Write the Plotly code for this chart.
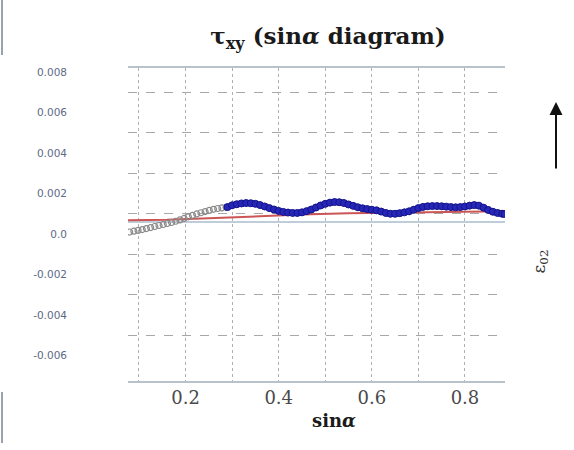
import plotly.graph_objects as go

# sin(alpha) samples and strain values
gray_x = [0.080, 0.089, 0.098, 0.107, 0.116, 0.125, 0.134, 0.143, 0.152, 0.161,
          0.170, 0.179, 0.188, 0.197, 0.206, 0.215, 0.224, 0.233, 0.242, 0.251,
          0.260, 0.269, 0.278, 0.287]
gray_y = [0.00010, 0.00014, 0.00018, 0.00022, 0.00027, 0.00032, 0.00037, 0.00042,
          0.00047, 0.00052, 0.00057, 0.00063, 0.00070, 0.00077, 0.00085, 0.00092,
          0.00099, 0.00105, 0.00111, 0.00117, 0.00122, 0.00126, 0.00129, 0.00132]

blue_x = [0.29, 0.30, 0.31, 0.32, 0.33, 0.34, 0.35, 0.36, 0.37, 0.38, 0.39, 0.40,
          0.41, 0.42, 0.43, 0.44, 0.45, 0.46, 0.47, 0.48, 0.49, 0.50, 0.51, 0.52,
          0.53, 0.54, 0.55, 0.56, 0.57, 0.58, 0.59, 0.60, 0.61, 0.62, 0.63, 0.64,
          0.65, 0.66, 0.67, 0.68, 0.69, 0.70, 0.71, 0.72, 0.73, 0.74, 0.75, 0.76,
          0.77, 0.78, 0.79, 0.80, 0.81, 0.82, 0.83, 0.84, 0.85, 0.86, 0.87, 0.88,
          0.885]
blue_y = [0.00133, 0.00142, 0.00147, 0.00151, 0.00153, 0.00152, 0.00149, 0.00143,
          0.00136, 0.00128, 0.00121, 0.00114, 0.00109, 0.00106, 0.00104, 0.00104,
          0.00107, 0.00113, 0.00121, 0.00131, 0.00141, 0.00149, 0.00155, 0.00158,
          0.00157, 0.00153, 0.00146, 0.00139, 0.00132, 0.00127, 0.00123, 0.00120,
          0.00117, 0.00111, 0.00104, 0.00100, 0.00100, 0.00103, 0.00107, 0.00112,
          0.00120, 0.00128, 0.00134, 0.00137, 0.00138, 0.00138, 0.00137, 0.00135,
          0.00133, 0.00132, 0.00133, 0.00136, 0.00140, 0.00143, 0.00140, 0.00130,
          0.00119, 0.00110, 0.00104, 0.00100, 0.00099]

red_x = [0.076, 0.16, 0.25, 0.35, 0.45, 0.55, 0.65, 0.75, 0.886]
red_y = [0.00068, 0.00070, 0.00078, 0.00088, 0.00096, 0.00102, 0.00106, 0.00110, 0.00112]

ref_x = [0.076, 0.886]
ref_y = [0.00059, 0.00059]

x_tickvals = [0.2, 0.4, 0.6, 0.8]
x_ticktext = ["0.2", "0.4", "0.6", "0.8"]
x_gridvals = [0.1, 0.3, 0.5, 0.7]
y_tickvals = [0.008, 0.006, 0.004, 0.002, 0.0, -0.002, -0.004, -0.006]
y_ticktext = ["0.008", "0.006", "0.004", "0.002", "0.0", "-0.002", "-0.004", "-0.006"]
y_gridvals = [0.007, 0.005, 0.003, 0.001, -0.001, -0.003, -0.005]

fig = go.Figure()

fig.add_trace(go.Scatter(x=ref_x, y=ref_y, mode="lines",
                         line=dict(color="#a9bccb", width=1.5), hoverinfo="skip"))
fig.add_trace(go.Scatter(x=red_x, y=red_y, mode="lines",
                         line=dict(color="#cc5555", width=2), hoverinfo="skip"))
fig.add_trace(go.Scatter(x=gray_x, y=gray_y, mode="markers",
                         marker=dict(symbol="circle-open", size=6, color="#8a8a8a",
                                     line=dict(width=1.2))))
fig.add_trace(go.Scatter(x=blue_x, y=blue_y, mode="lines+markers",
                         line=dict(color="#2a2ab0", width=6, shape="spline"),
                         marker=dict(symbol="circle", size=7, color="#2626b8",
                                     line=dict(color="#14148a", width=1))))

fig.update_layout(
    width=574, height=450,
    margin=dict(l=128, r=69, t=68, b=69),
    paper_bgcolor="white", plot_bgcolor="white",
    showlegend=False,
    title=dict(text="<b>τ<sub>xy</sub> (sin<i>α</i> diagram)</b>",
               x=(328 / 574), xanchor="center", y=1 - 36 / 450, yanchor="middle",
               font=dict(family="DejaVu Serif", size=23, color="#1a1a1a")),
    xaxis=dict(range=[0.0764, 0.886], tickvals=x_tickvals, ticktext=x_ticktext,
               showgrid=True, gridcolor="#b0b0b0", griddash="dot", gridwidth=1,
               showline=True, mirror=True, linecolor="#b7c2cb", linewidth=1.5,
               ticks="", zeroline=False,
               tickfont=dict(family="DejaVu Serif", size=18, color="#4a4a4a"),
               minor=dict(tickvals=x_gridvals, showgrid=True, gridcolor="#b0b0b0",
                          griddash="dot", gridwidth=1, ticks="")),
    yaxis=dict(range=[-0.00726, 0.0082], tickvals=y_tickvals, ticktext=y_ticktext,
               showgrid=False, zeroline=False, showline=False, ticks="",
               ticklabelstandoff=60,
               tickfont=dict(family="DejaVu Sans", size=10.5, color="#5d6a85"),
               minor=dict(tickvals=y_gridvals, showgrid=True, gridcolor="#a8a8a8",
                          griddash="dash", gridwidth=1, ticks="")),
)

# x-axis caption below the tick labels
fig.add_annotation(x=(334 - 128) / 377, y=(381 - 433) / 313, xref="paper", yref="paper",
                   text="<b>sin</b><b><i>α</i></b>", showarrow=False,
                   font=dict(family="DejaVu Serif", size=18, color="#1a1a1a"))

# arrow and rotated label on the right side
fig.add_annotation(x=(556 - 128) / 377, y=(381 - 102) / 313, xref="paper", yref="paper",
                   ax=0, ay=68, showarrow=True, arrowhead=2, arrowsize=1.3,
                   arrowwidth=2, arrowcolor="#111", text="")
fig.add_annotation(x=(553 - 128) / 377, y=(381 - 262) / 313, xref="paper", yref="paper",
                   text="ε<sub>02</sub>", showarrow=False, textangle=-90,
                   font=dict(family="DejaVu Serif", size=17, color="#333"))

# thin border strokes at the left edge of the page
for y0, y1 in [(0, 55), (392, 443)]:
    fig.add_shape(type="line", xref="paper", yref="paper",
                  x0=(2 - 128) / 377, x1=(2 - 128) / 377,
                  y0=(381 - y0) / 313, y1=(381 - y1) / 313,
                  line=dict(color="#9aa3ad", width=2))

fig.write_html("out.html")
